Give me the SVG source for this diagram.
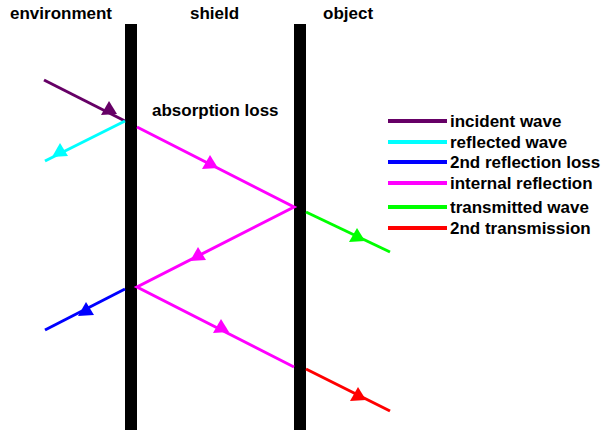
<svg xmlns="http://www.w3.org/2000/svg" width="603" height="432" viewBox="0 0 603 432">
<style>
text{font-family:"Liberation Sans",Arial,sans-serif;font-weight:bold;font-size:17px;fill:#000}
.w{fill:none;stroke-width:3;stroke-linecap:butt}
.lg{stroke-width:4}
.pu{stroke:#660066}.cy{stroke:#00ffff}.bl{stroke:#0000ff}.mg{stroke:#ff00ff}.gr{stroke:#00ff00}.rd{stroke:#ff0000}
</style>
<defs>
<polygon id="ah" points="0,-12 -8,2 8,1"/>
</defs>
<rect width="603" height="432" fill="#fff"/>
<g id="bar-shield-left"><rect x="125" y="24" width="12" height="406" fill="#000"/></g>
<g id="bar-shield-right"><rect x="294" y="24" width="12" height="406" fill="#000"/></g>
<g id="label-environment"><text x="10" y="19">environment</text></g>
<g id="label-shield"><text x="190" y="19">shield</text></g>
<g id="label-object"><text x="323" y="19">object</text></g>
<g id="label-absorption"><text x="152" y="116">absorption loss</text></g>
<g id="connectors">
<line class="w pu" x1="44" y1="80" x2="125" y2="121"/>
<line class="w cy" x1="125" y1="121" x2="45" y2="161"/>
<polyline class="w mg" points="137,127 294,207 137,287 294,367"/>
<line class="w gr" x1="306" y1="212" x2="390" y2="252"/>
<line class="w rd" x1="306" y1="369" x2="390" y2="411"/>
<line class="w bl" x1="125" y1="289" x2="45" y2="330"/>
<use href="#ah" x="109" y="113" fill="#660066"/>
<use href="#ah" x="60" y="155" fill="#00ffff"/>
<use href="#ah" x="86" y="314" fill="#0000ff"/>
<use href="#ah" x="210" y="167" fill="#ff00ff"/>
<use href="#ah" x="198" y="259" fill="#ff00ff"/>
<use href="#ah" x="221" y="331" fill="#ff00ff"/>
<use href="#ah" x="357" y="240" fill="#00ff00"/>
<use href="#ah" x="358" y="399" fill="#ff0000"/>
</g>
<g id="legend-incident"><line class="lg pu" x1="388" y1="121" x2="447" y2="121"/><text x="450" y="127">incident wave</text></g>
<g id="legend-reflected"><line class="lg cy" x1="388" y1="142" x2="447" y2="142"/><text x="450" y="148">reflected wave</text></g>
<g id="legend-2nd-reflection"><line class="lg bl" x1="388" y1="162" x2="447" y2="162"/><text x="450" y="168">2nd reflection loss</text></g>
<g id="legend-internal"><line class="lg mg" x1="388" y1="183" x2="447" y2="183"/><text x="450" y="189">internal reflection</text></g>
<g id="legend-transmitted"><line class="lg gr" x1="388" y1="207" x2="447" y2="207"/><text x="450" y="213">transmitted wave</text></g>
<g id="legend-2nd-transmission"><line class="lg rd" x1="388" y1="228" x2="447" y2="228"/><text x="450" y="234">2nd transmission</text></g>
</svg>
